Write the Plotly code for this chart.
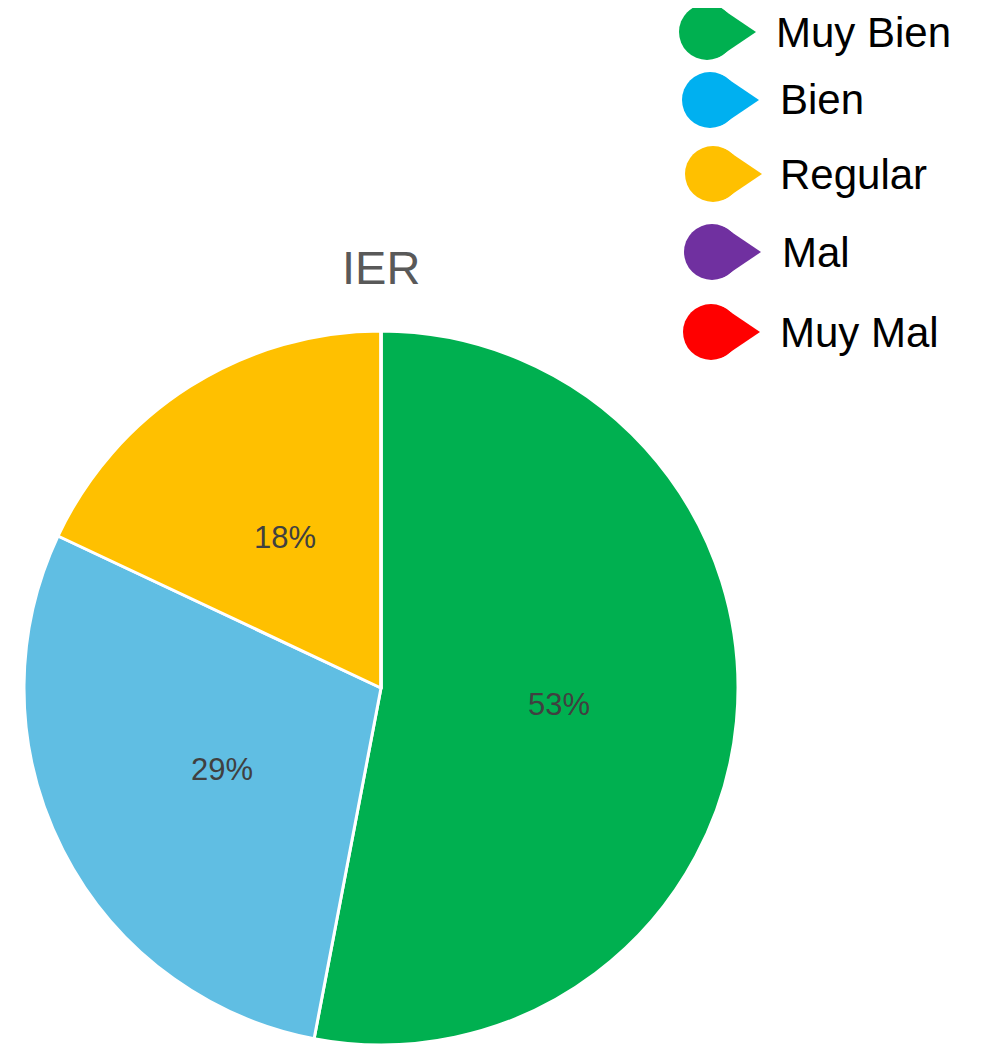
import numpy as np
import plotly.graph_objects as go

categories = ["Muy Bien", "Bien", "Regular", "Mal", "Muy Mal"]
values = [53, 29, 18, 0, 0]
pie_colors = ["#00B050", "#60BEE3", "#FFC000", "#7030A0", "#FF0000"]
legend_colors = ["#00B050", "#00B0F0", "#FFC000", "#7030A0", "#FF0000"]
title = "IER"

W, H = 984, 1045
OFF = 8  # page body margin

def px(x):
    return (x - OFF) / W

def py(y):
    return 1 - (y - OFF) / H

# pie geometry in page pixels
cx, cy, R = 381, 688, 357

fig = go.Figure()
fig.add_trace(
    go.Pie(
        labels=categories,
        values=values,
        sort=False,
        direction="clockwise",
        rotation=0,
        marker=dict(colors=pie_colors, line=dict(color="white", width=3)),
        textinfo="none",
        domain=dict(x=[px(cx - R), px(cx + R)], y=[py(cy + R), py(cy - R)]),
        showlegend=False,
        hoverinfo="label+percent",
    )
)

annotations = []

# percentage labels at half radius, on each slice's mid angle
total = sum(values)
cum = 0
for v in values:
    if v > 0:
        mid = 2 * np.pi * (cum + v / 2) / total
        lx = cx + 0.5 * R * np.sin(mid)
        ly = cy - 0.5 * R * np.cos(mid)
        annotations.append(
            dict(xref="paper", yref="paper", x=px(lx), y=py(ly),
                 xanchor="center", yanchor="middle", showarrow=False,
                 text=f"{round(100 * v / total)}%",
                 font=dict(family="Liberation Sans, Arial", size=31, color="#404040"))
        )
    cum += v

# legend drawn by hand: teardrop markers + labels
row_y = [32, 100, 174, 252, 332]
marker_x = [707, 710, 713, 712, 711]
text_x = [774, 778, 778, 780, 778]
shapes = []
r, tip = 28, 49
for i, name in enumerate(categories):
    xa, ya = px(marker_x[i]), py(row_y[i])
    shapes.append(
        dict(type="circle", xref="paper", yref="paper",
             xsizemode="pixel", ysizemode="pixel", xanchor=xa, yanchor=ya,
             x0=-r, x1=r, y0=-r, y1=r,
             fillcolor=legend_colors[i], line=dict(width=0))
    )
    shapes.append(
        dict(type="path", xref="paper", yref="paper",
             xsizemode="pixel", ysizemode="pixel", xanchor=xa, yanchor=ya,
             path=f"M 12,{r - 3} L {tip},0 L 12,{-(r - 3)} Z",
             fillcolor=legend_colors[i], line=dict(width=0))
    )
    annotations.append(
        dict(xref="paper", yref="paper", x=px(text_x[i]), y=ya,
             xanchor="left", yanchor="middle", showarrow=False, text=name,
             font=dict(family="Liberation Sans, Arial", size=42, color="black"))
    )

annotations.append(
    dict(xref="paper", yref="paper", x=px(381), y=py(268),
         xanchor="center", yanchor="middle", showarrow=False, text=title,
         font=dict(family="Liberation Sans, Arial", size=47, color="#595959"))
)

fig.update_layout(
    width=W,
    height=H,
    margin=dict(l=0, r=0, t=0, b=0),
    paper_bgcolor="white",
    plot_bgcolor="white",
    shapes=shapes,
    annotations=annotations,
)

fig.write_html("out.html")
